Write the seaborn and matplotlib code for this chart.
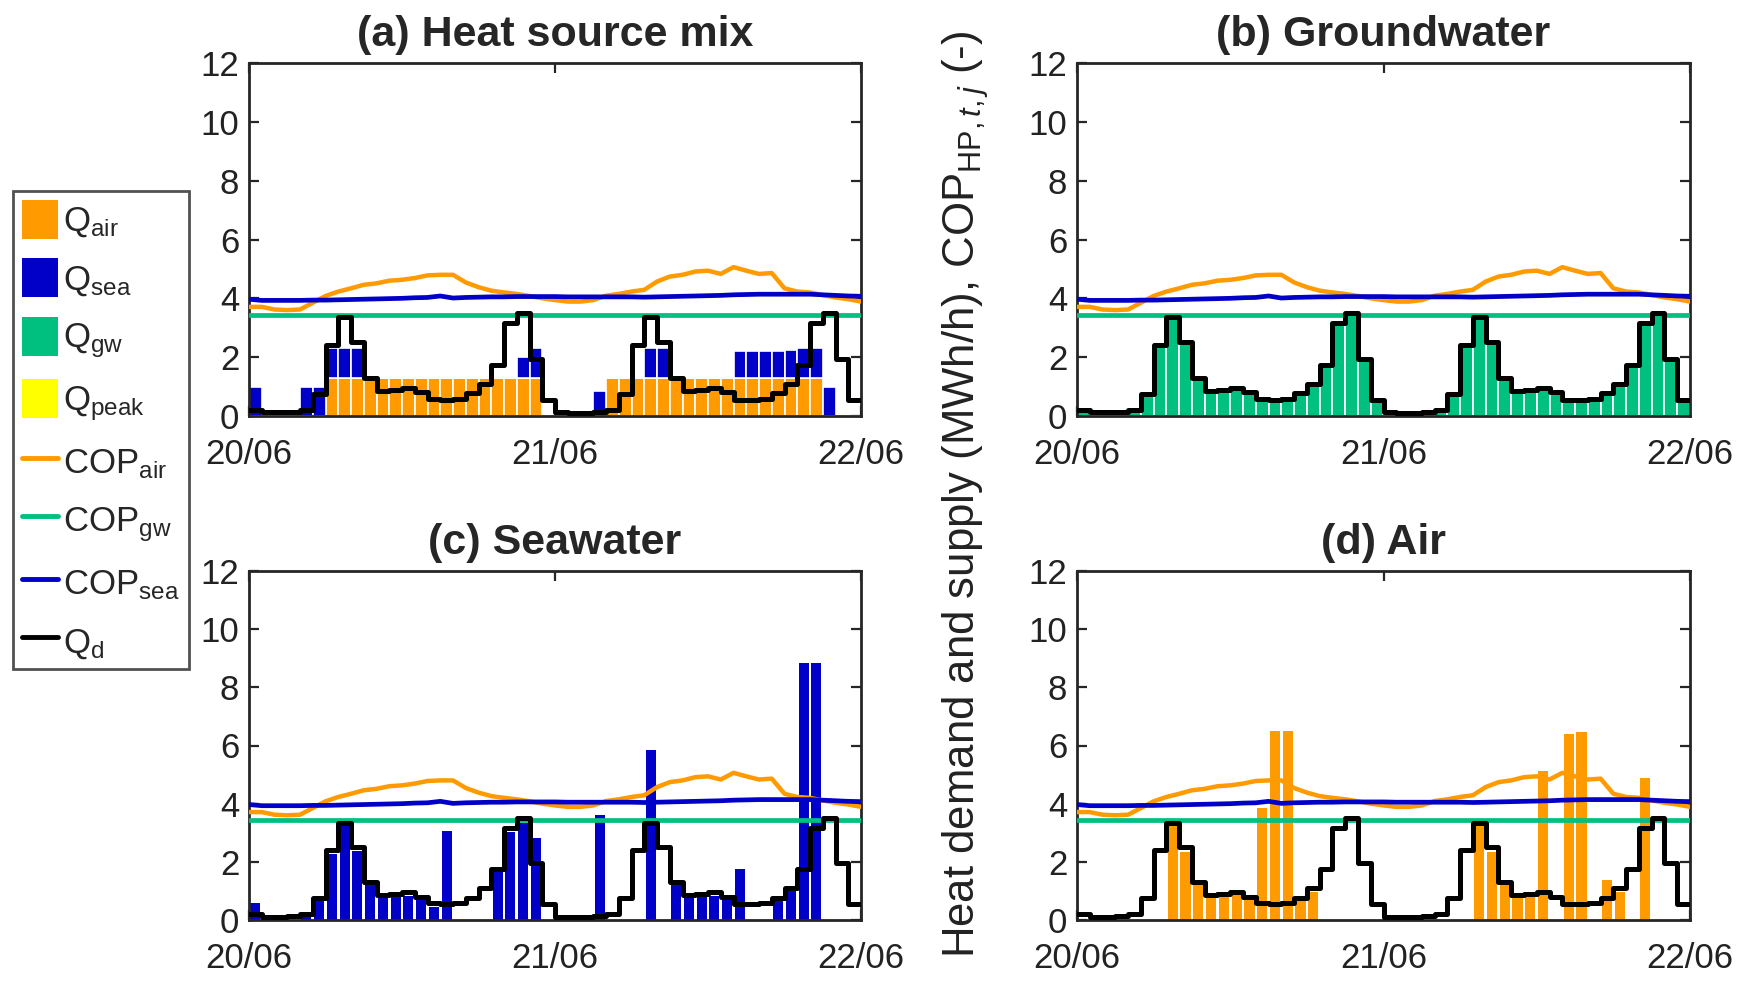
import matplotlib
matplotlib.use("Agg")
import matplotlib.pyplot as plt
from matplotlib.lines import Line2D
from matplotlib.patches import Patch
import numpy as np
import seaborn as sns

# Time axis: 48 hourly steps, 20/06 00:00 -> 22/06 00:00
hours = np.arange(48)
edges = np.arange(49)
tick_pos = [0, 24, 48]
tick_labels = ['20/06', '21/06', '22/06']

# Heat demand Q_d (MWh/h)
q_demand = [0.20, 0.12, 0.12, 0.15, 0.20, 0.75, 2.40, 3.35, 2.50, 1.30, 0.85, 0.90,
            0.95, 0.80, 0.57, 0.55, 0.57, 0.77, 1.10, 1.75, 3.15, 3.50, 1.95, 0.55,
            0.12, 0.10, 0.10, 0.15, 0.20, 0.75, 2.40, 3.35, 2.50, 1.30, 0.85, 0.90,
            0.95, 0.80, 0.55, 0.55, 0.57, 0.77, 1.10, 1.75, 3.15, 3.50, 1.95, 0.55]

# COP curves
cop_air = [3.71, 3.71, 3.62, 3.60, 3.62, 3.85, 4.08, 4.23, 4.34, 4.46, 4.51, 4.60,
           4.63, 4.69, 4.78, 4.80, 4.80, 4.54, 4.38, 4.26, 4.20, 4.15, 4.08, 4.00,
           3.94, 3.89, 3.89, 3.94, 4.09, 4.15, 4.23, 4.29, 4.57, 4.74, 4.80, 4.91,
           4.94, 4.83, 5.06, 4.94, 4.83, 4.86, 4.34, 4.23, 4.20, 4.11, 4.03, 3.97,
           3.89]
cop_sea = [3.97, 3.93, 3.93, 3.93, 3.93, 3.94, 3.94, 3.95, 3.96, 3.97, 3.98, 3.99,
           4.00, 4.02, 4.03, 4.08, 4.01, 4.03, 4.04, 4.05, 4.05, 4.06, 4.06, 4.06,
           4.06, 4.05, 4.05, 4.05, 4.05, 4.05, 4.05, 4.04, 4.05, 4.06, 4.07, 4.08,
           4.09, 4.10, 4.12, 4.13, 4.14, 4.14, 4.14, 4.14, 4.14, 4.12, 4.10, 4.08,
           4.07]
cop_gw = 3.45

# (a) heat source mix: air at the bottom, seawater stacked on top
mix_air = [0, 0, 0, 0, 0, 0, 1.3, 1.3, 1.3, 1.3, 1.3, 1.3,
           1.3, 1.3, 1.3, 1.3, 1.3, 1.3, 1.3, 1.3, 1.3, 1.3, 1.3, 0,
           0, 0, 0, 0, 1.3, 1.3, 1.3, 1.3, 1.3, 1.3, 1.3, 1.3,
           1.3, 1.3, 1.3, 1.3, 1.3, 1.3, 1.3, 1.3, 1.3, 0, 0, 0]
mix_sea = [1.0, 0, 0, 0, 1.0, 1.0, 1.0, 1.0, 1.0, 0, 0, 0,
           0, 0, 0, 0, 0, 0, 0, 0, 0, 0.7, 1.0, 0,
           0, 0, 0, 0.85, 0, 0, 0, 1.0, 1.0, 0, 0, 0,
           0, 0, 0.9, 0.9, 0.9, 0.9, 0.95, 1.0, 1.0, 0.97, 0, 0]

# (b) groundwater only
q_gw = [0.20, 0.12, 0.12, 0.15, 0.20, 0.75, 2.40, 3.35, 2.50, 1.30, 0.85, 0.90,
        0.95, 0.80, 0.57, 0.55, 0.57, 0.77, 1.10, 1.75, 3.15, 3.50, 1.95, 0.55,
        0.12, 0.10, 0.10, 0.15, 0.20, 0.75, 2.40, 3.35, 2.50, 1.30, 0.85, 0.90,
        0.95, 0.80, 0.55, 0.55, 0.57, 0.77, 1.10, 1.75, 3.15, 3.50, 1.95, 0.55]

# (c) seawater only
q_sea = [0.58, 0, 0, 0, 0.10, 0.70, 2.28, 3.30, 2.37, 1.21, 0.75, 0.81,
         0.84, 0.69, 0.46, 3.06, 0, 0, 0, 1.65, 3.04, 3.35, 2.83, 0,
         0, 0, 0, 3.62, 0, 0, 0, 5.85, 0, 1.21, 0.75, 0.81,
         0.84, 0.69, 1.77, 0, 0, 0.69, 0.98, 8.85, 8.85, 0, 0, 0]

# (d) air only
q_air = [0, 0, 0, 0, 0, 0, 0, 3.30, 2.33, 1.20, 0.74, 0.80,
         0.85, 0.68, 3.84, 6.50, 6.50, 0.65, 0.97, 0, 0, 0, 0, 0,
         0, 0, 0, 0, 0, 0, 0, 3.25, 2.33, 1.20, 0.74, 0.80,
         5.12, 0, 6.41, 6.45, 0, 1.37, 0.97, 0, 4.87, 0, 0, 0]

C_AIR = '#ff9a00'
C_SEA = '#0000c8'
C_GW = '#00c080'
C_PEAK = '#ffff00'
C_AX = '#262626'

sns.set_theme(style='ticks')
plt.rcParams['font.family'] = ['Liberation Sans', 'DejaVu Sans']
plt.rcParams['mathtext.fontset'] = 'custom'
plt.rcParams['mathtext.rm'] = 'Liberation Sans'
plt.rcParams['mathtext.it'] = 'Liberation Sans:italic'

W, H = 1745, 982
fig = plt.figure(figsize=(W / 100, H / 100), dpi=100)


def rect(x0, y0, x1, y1):
    return [x0 / W, 1 - y1 / H, (x1 - x0) / W, (y1 - y0) / H]


ax_a = fig.add_axes(rect(249, 63, 861, 416))
ax_b = fig.add_axes(rect(1077, 63, 1690, 416))
ax_c = fig.add_axes(rect(249, 571, 861, 920))
ax_d = fig.add_axes(rect(1077, 571, 1690, 920))


def common(ax, title):
    sns.lineplot(x=edges, y=cop_air, color=C_AIR, lw=3.2, ax=ax, estimator=None, zorder=3)
    ax.axhline(cop_gw, color=C_GW, lw=3.4, zorder=3)
    sns.lineplot(x=edges, y=cop_sea, color=C_SEA, lw=3.4, ax=ax, estimator=None, zorder=3)
    sns.lineplot(x=edges, y=q_demand + q_demand[-1:], color='black', lw=3.6,
                 drawstyle='steps-post', ax=ax, estimator=None, zorder=4)
    ax.set_xlim(0, 48)
    ax.set_ylim(0, 12)
    ax.set_xticks(tick_pos)
    ax.set_xticklabels(tick_labels)
    ax.set_yticks(range(0, 13, 2))
    ax.tick_params(direction='in', length=7, width=1.6, color=C_AX, labelsize=25,
                   top=True, right=True, labelcolor='#222222')
    ax.tick_params(axis='x', pad=16)
    ax.tick_params(axis='y', pad=7)
    for sp in ax.spines.values():
        sp.set_color(C_AX)
        sp.set_linewidth(2.0)
    ax.set_title(title, fontsize=31, fontweight='bold', pad=12)


ax_a.bar(hours + 0.5, mix_air, width=1, color=C_AIR, edgecolor='white', lw=1.2, zorder=2)
ax_a.bar(hours + 0.5, mix_sea, bottom=mix_air, width=1, color=C_SEA, edgecolor='white',
         lw=1.2, zorder=2)
common(ax_a, '(a) Heat source mix')

ax_b.bar(hours + 0.5, q_gw, width=1, color=C_GW, edgecolor='white', lw=1.2, zorder=2)
common(ax_b, '(b) Groundwater')

ax_c.bar(hours + 0.5, q_sea, width=0.8, color=C_SEA, lw=0, zorder=2)
common(ax_c, '(c) Seawater')

ax_d.bar(hours + 0.5, q_air, width=0.8, color=C_AIR, lw=0, zorder=2)
common(ax_d, '(d) Air')

fig.text(966 / W, 1 - 494 / H,
         r'Heat demand and supply (MWh/h), COP$_{\mathrm{HP},t,j}$ (-)',
         rotation=90, ha='center', va='center', fontsize=31.5, color='#222222')

handles = [Patch(facecolor=C_AIR, edgecolor='none'),
           Patch(facecolor=C_SEA, edgecolor='none'),
           Patch(facecolor=C_GW, edgecolor='none'),
           Patch(facecolor=C_PEAK, edgecolor='none'),
           Line2D([], [], color=C_AIR, lw=3.5),
           Line2D([], [], color=C_GW, lw=3.5),
           Line2D([], [], color=C_SEA, lw=3.5),
           Line2D([], [], color='black', lw=3.5)]
labels = [r'Q$_{\mathrm{air}}$', r'Q$_{\mathrm{sea}}$', r'Q$_{\mathrm{gw}}$',
          r'Q$_{\mathrm{peak}}$', r'COP$_{\mathrm{air}}$', r'COP$_{\mathrm{gw}}$',
          r'COP$_{\mathrm{sea}}$', r'Q$_{\mathrm{d}}$']
leg = fig.legend(handles, labels, loc='upper left', bbox_to_anchor=(13 / W, 1 - 191 / H),
                 borderaxespad=0, fontsize=25, handlelength=1.05, handleheight=1.35,
                 handletextpad=0.15, labelspacing=0.55, borderpad=0.25,
                 frameon=True, fancybox=False)
leg.get_frame().set_edgecolor(C_AX)
leg.get_frame().set_linewidth(2.0)

fig.savefig('out.png', dpi=100, facecolor='white')
